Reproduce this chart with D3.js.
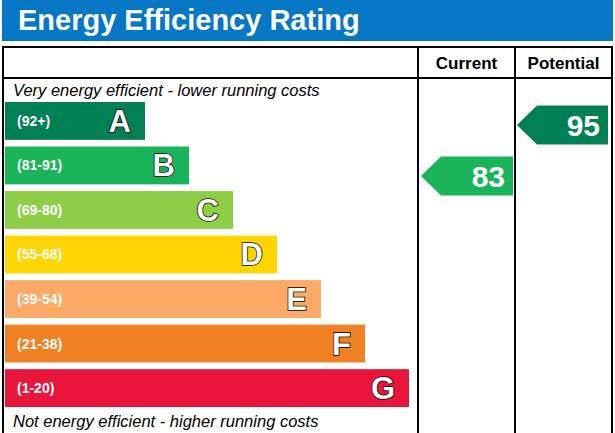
<!DOCTYPE html><html><head><meta charset="utf-8"><script src="https://cdn.jsdelivr.net/npm/d3@7"></script>
<style>body{margin:0;background:#fff}svg{display:block}</style></head><body><script>
const letters=["A","B","C","D","E","F","G"];
const ranges=["(92+)","(81-91)","(69-80)","(55-68)","(39-54)","(21-38)","(1-20)"];
const colors=["#008054","#19b459","#8dce46","#ffd500","#fcaa65","#ef8023","#e9153b"];
const currentScore=83, potentialScore=95;
const currentColor="#19b459", potentialColor="#008054";
const W=615,H=433;
const svg=d3.select("body").append("svg").attr("width",W).attr("height",H);
svg.append("rect").attr("x",2).attr("y",0).attr("width",611).attr("height",41).attr("fill","#0577c4");
svg.append("text").attr("x",18).attr("y",30).attr("fill","#fff").attr("font-family","Liberation Sans, Arial").attr("font-weight","bold").attr("font-size",29).text("Energy Efficiency Rating");
const g=svg.append("g");
const L=3,R=612,T=47,C1=418,C2=515,HB=78;
g.append("rect").attr("x",L).attr("y",T).attr("width",R-L).attr("height",H-T+5).attr("fill","none").attr("stroke","#000").attr("stroke-width",2);
g.append("line").attr("x1",L).attr("x2",R).attr("y1",HB).attr("y2",HB).attr("stroke","#000").attr("stroke-width",2);
[C1,C2].forEach(x=>g.append("line").attr("x1",x).attr("x2",x).attr("y1",T).attr("y2",H).attr("stroke","#000").attr("stroke-width",2));
const hf="Liberation Sans, Arial";
g.append("text").attr("x",(C1+C2)/2).attr("y",69).attr("text-anchor","middle").attr("font-family",hf).attr("font-weight","bold").attr("font-size",17).text("Current");
g.append("text").attr("x",(C2+R)/2).attr("y",69).attr("text-anchor","middle").attr("font-family",hf).attr("font-weight","bold").attr("font-size",17).text("Potential");
g.append("text").attr("x",13).attr("y",96).attr("font-family",hf).attr("font-style","italic").attr("font-size",16.5).text("Very energy efficient - lower running costs");
g.append("text").attr("x",13).attr("y",427).attr("font-family",hf).attr("font-style","italic").attr("font-size",16.5).text("Not energy efficient - higher running costs");
const y=d3.scaleBand().domain(letters).range([102,407]).paddingInner(0.15).paddingOuter(0);
const xw=d3.scaleLinear().domain([0,6]).range([140,404]);
const rows=g.selectAll("g.r").data(letters).join("g").attr("transform",d=>`translate(5,${y(d)})`);
rows.append("rect").attr("width",(d,i)=>xw(i)).attr("height",y.bandwidth()).attr("fill",(d,i)=>colors[i]);
rows.append("text").attr("x",12).attr("y",y.bandwidth()/2+5).attr("fill","#fff").attr("font-family",hf).attr("font-weight","bold").attr("font-size",14).text((d,i)=>ranges[i]);
rows.append("text").attr("x",(d,i)=>xw(i)-14).attr("y",y.bandwidth()/2+11).attr("text-anchor","end").attr("fill","#fff").attr("stroke","#000").attr("stroke-width",1.5).attr("paint-order","stroke").attr("font-family",hf).attr("font-weight","bold").attr("font-size",31).text(d=>d);
const ys=d3.scaleLinear().domain([95,83]).range([125,176]);
function arrow(x0,x1,score,col){
  const cy=ys(score),h=39,tip=20;
  g.append("path").attr("d",`M${x0},${cy}L${x0+tip},${cy-h/2}L${x1},${cy-h/2}L${x1},${cy+h/2}L${x0+tip},${cy+h/2}Z`).attr("fill",col);
  g.append("text").attr("x",x1-8).attr("y",cy+11).attr("text-anchor","end").attr("fill","#fff").attr("font-family",hf).attr("font-weight","bold").attr("font-size",30).text(score);
}
arrow(421,513,currentScore,currentColor);
arrow(517,608,potentialScore,potentialColor);
</script></body></html>
